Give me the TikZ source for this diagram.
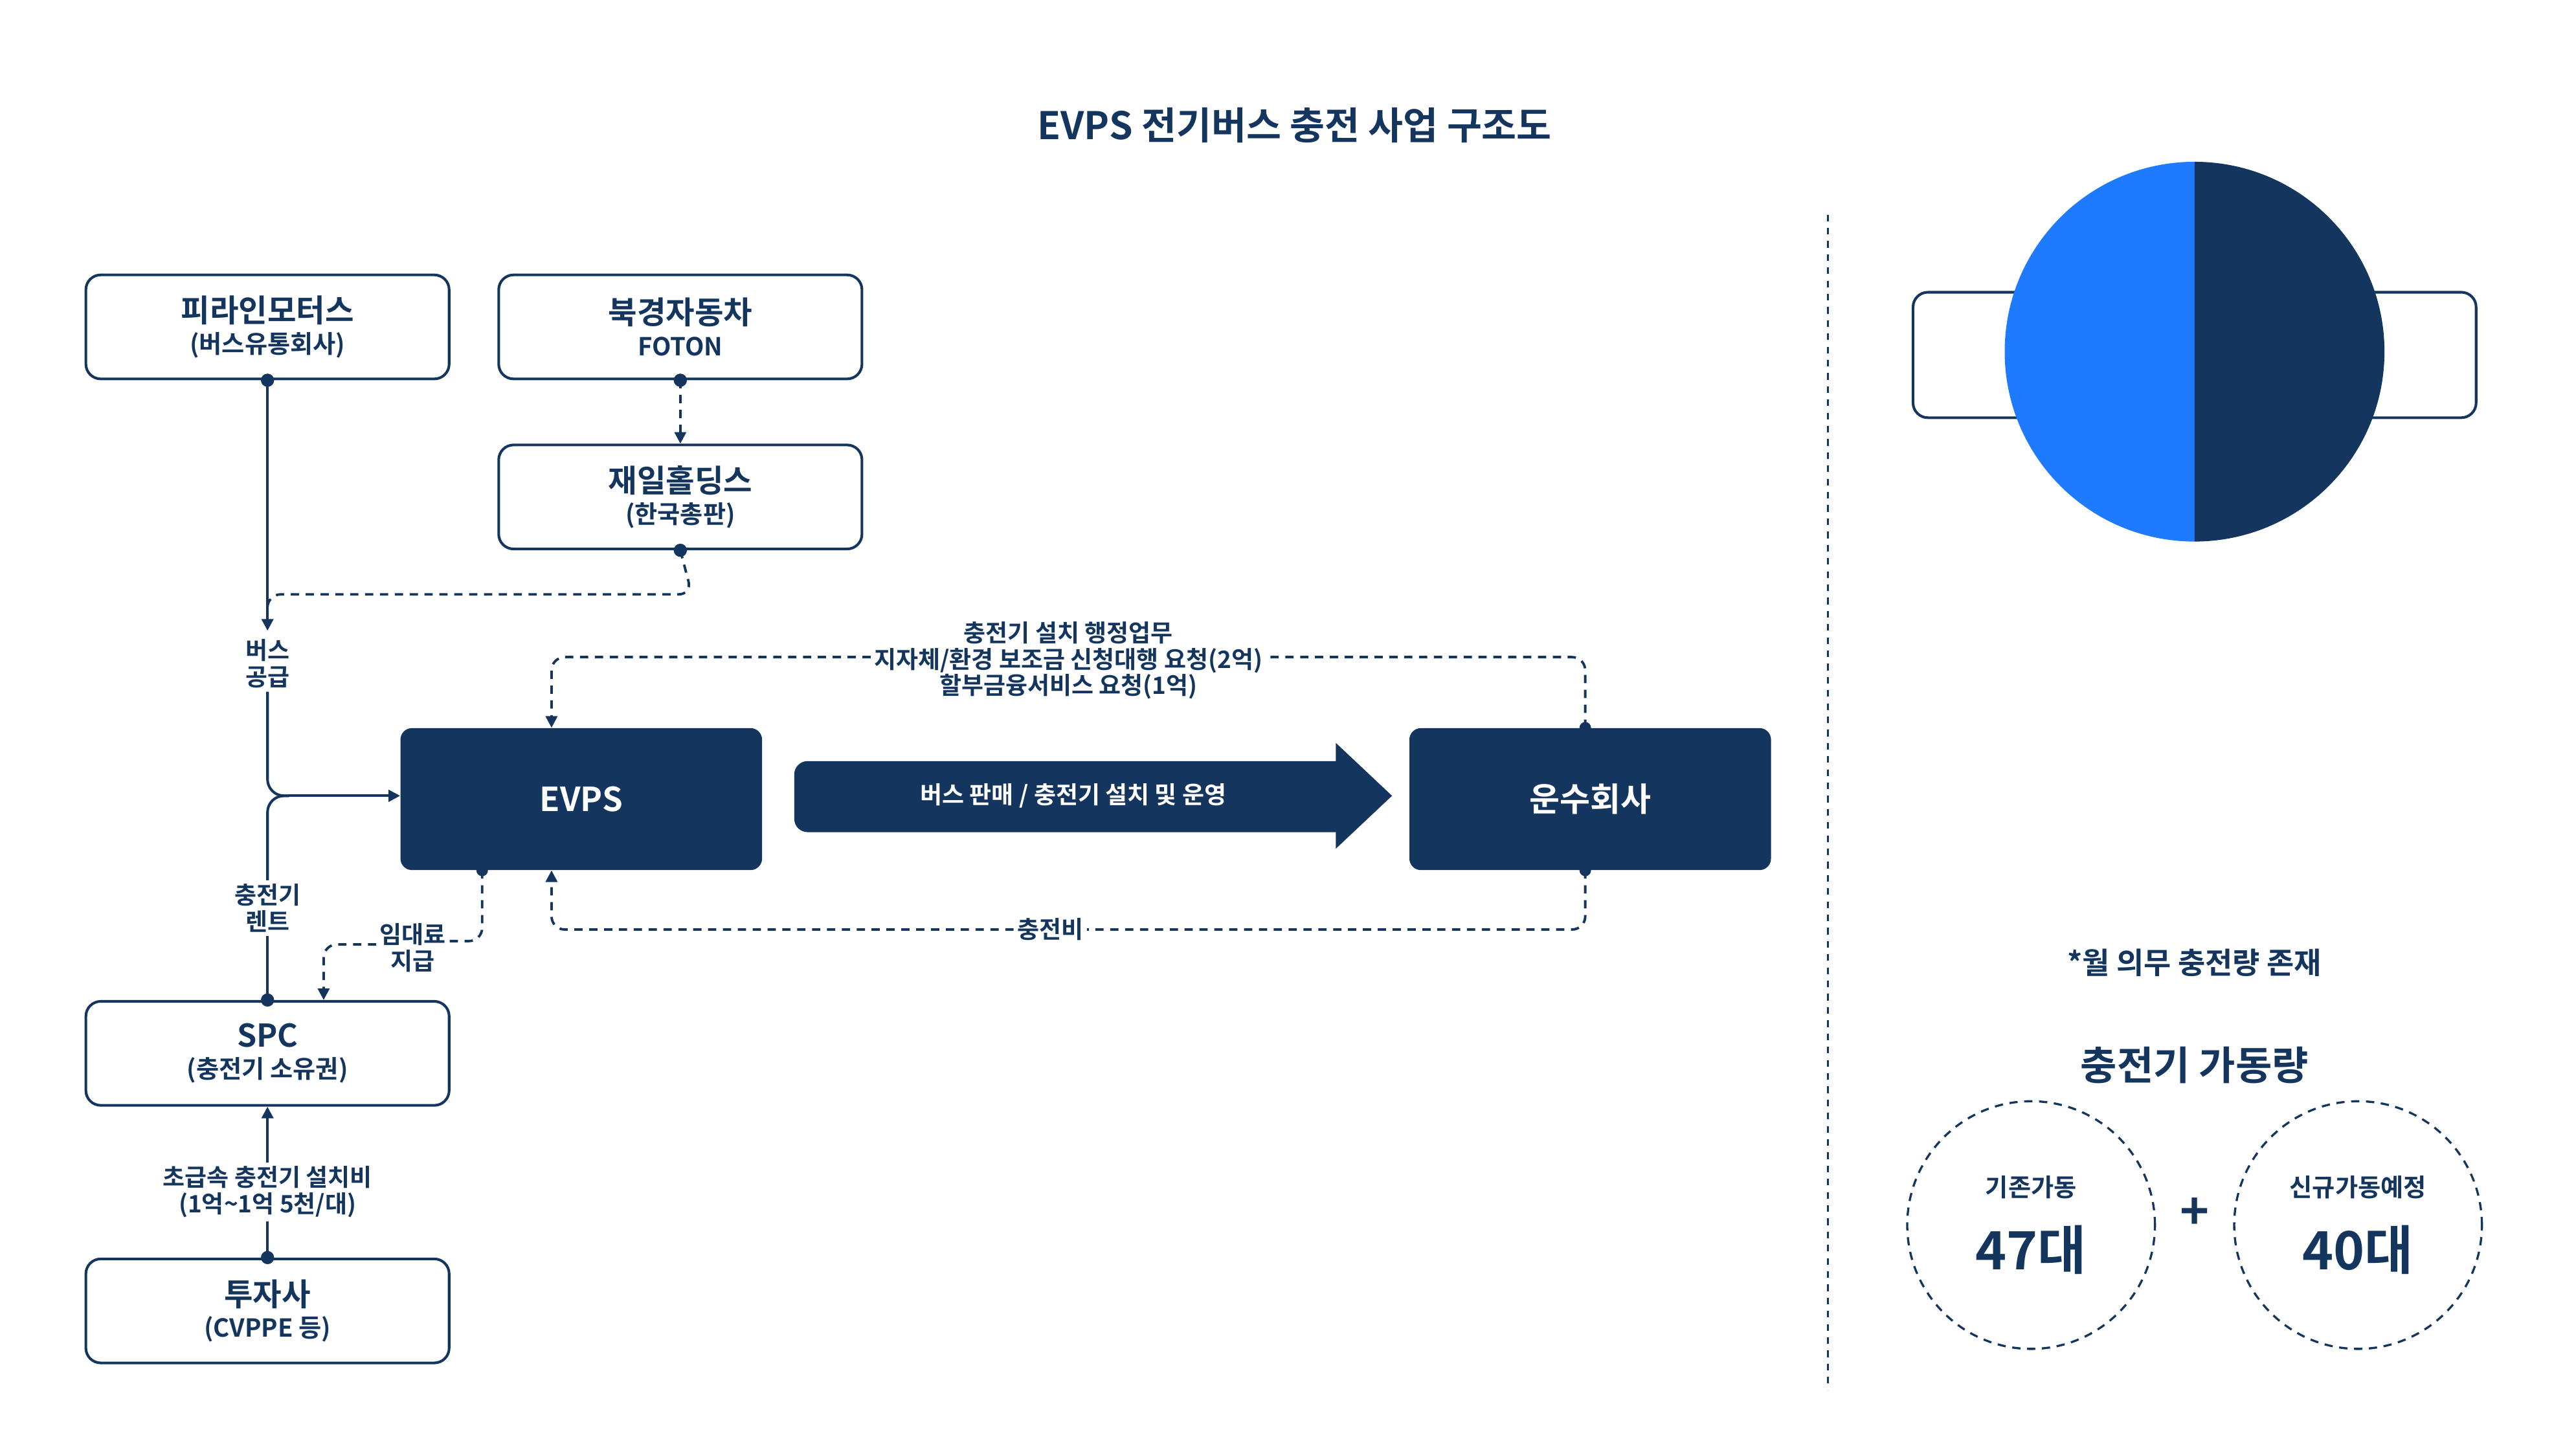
\documentclass[tikz,border=0pt]{standalone}
\usepackage{fontspec}
\setmainfont{Noto Sans CJK KR}[BoldFont={Noto Sans CJK KR Bold}]
\usetikzlibrary{arrows.meta}
\definecolor{navy}{HTML}{14365E}
\definecolor{bl}{HTML}{1E7BFF}
\newcommand\sbt{\bfseries\fontsize{15}{18}\selectfont}
\begin{document}
\begin{tikzpicture}[x=1pt,y=-1pt,
  wbox/.style={draw=navy,line width=1.6pt,rounded corners=9pt,minimum width=220pt,minimum height=63pt,align=center,text=navy,font=\bfseries\fontsize{19}{22}\selectfont},
  nbox/.style={fill=navy,rounded corners=7pt,minimum width=219pt,minimum height=86pt,text=white,font=\bfseries\fontsize{20}{24}\selectfont},
  ln/.style={draw=navy,line width=1.6pt},
  dsh/.style={draw=navy,line width=1.5pt,dash pattern=on 5pt off 4pt},
  arr/.style={-{Triangle[length=7pt,width=7pt]}},
  lab/.style={text=navy,font=\bfseries\fontsize{14.5}{20}\selectfont,align=center,fill=white,inner sep=2pt},
  dot/.style={circle,fill=navy,inner sep=0pt,minimum size=8pt},
  hd/.style={text=navy,font=\bfseries\fontsize{24}{28}\selectfont}]
\useasboundingbox (0,0) rectangle (1560,877);
\node[hd,font=\bfseries\fontsize{23}{28}\selectfont] (title) at (784,76) {EVPS 전기버스 충전 사업 구조도};
\node[wbox] (pira) at (162,198) {피라인모터스\\[-3pt]{\sbt (버스유통회사)}};
\node[wbox] (bk) at (412,198) {북경자동차\\[-3pt]{\sbt FOTON}};
\node[wbox] (ji) at (412,301) {재일홀딩스\\[-3pt]{\sbt (한국총판)}};
\node[nbox] (evps) at (352,484) {EVPS};
\node[nbox] (uns) at (963,484) {운수회사};
\node[wbox] (spc) at (162,638) {SPC\\[-3pt]{\sbt (충전기 소유권)}};
\node[wbox] (inv) at (162,794) {투자사\\[-3pt]{\sbt (CVPPE 등)}};
% big arrow
\fill[navy,rounded corners=8pt] (810,461) -- (481,461) -- (481,504) -- (810,504);
\fill[navy] (809,461) -- (809,450) -- (843,482) -- (809,514) -- (809,504) -- cycle;
\node[text=white,font=\bfseries\fontsize{14.5}{18}\selectfont] (al) at (650,482) {버스 판매 / 충전기 설치 및 운영};
% dots
\node[dot] (d1) at (pira.south) {};
\node[dot] (d2) at (bk.south) {};
\node[dot] (d3) at (ji.south) {};
\node[dot] (d4) at (spc.north) {};
\node[dot] (d5) at (inv.north) {};
\node[dot,minimum size=7pt] (d6) at ([xshift=-60pt]evps.south) {};
\node[dot,minimum size=7pt] (d7) at ([xshift=-3pt]uns.north) {};
\node[dot,minimum size=7pt] (d8) at ([xshift=-3pt]uns.south) {};
% left flows
\node[lab] (bus) at (162,402) {버스\\[-4pt]공급};
\node[lab] (rent) at (162,550) {충전기\\[-4pt]렌트};
\coordinate (b1) at (162,382);
\draw[ln,arr] (pira.south) -- (b1);
\draw[dsh,rounded corners=8pt] (ji.south) -- (419,360) -- (162,360) -- (162,372);
\draw[ln,rounded corners=10pt] (bus.south) -- (162,482) -- (175,482);
\draw[ln,arr] (175,482) -- (evps.west|-175,482);
\draw[ln,rounded corners=10pt] (rent.north) -- (162,482) -- (175,482);
\draw[ln] (spc.north) -- (rent.south);
\draw[dsh,arr] (bk.south) -- (ji.north);
\node[lab] (imd) at (250,574) {임대료\\[-4pt]지급};
\draw[dsh,rounded corners=8pt] (d6.center) -- (292,570) -- (imd.east|-292,570);
\draw[dsh,rounded corners=8pt,arr] (imd.west|-196,572) -- (196,572) -- (196,0|-spc.north);
% top and bottom dashed
\node[lab] (top) at (647,400) {충전기 설치 행정업무\\[-4pt]지자체/환경 보조금 신청대행 요청(2억)\\[-4pt]할부금융서비스 요청(1억)};
\draw[dsh,rounded corners=8pt] (d7.center) -- (960,398) -- (top.east|-960,398);
\draw[dsh,rounded corners=8pt,arr] (top.west|-334,398) -- (334,398) -- (334,0|-evps.north);
\node[lab] (cb) at (636,563) {충전비};
\draw[dsh,rounded corners=8pt] (d8.center) -- (960,563) -- (cb.east);
\draw[dsh,rounded corners=8pt,arr] (cb.west) -- (334,563) -- (334,0|-evps.south);
\node[lab] (inst) at (162,722) {초급속 충전기 설치비\\[-4pt](1억\textasciitilde1억 5천/대)};
\draw[ln,arr] (inst.north) -- (spc.south);
\draw[ln] (inv.north) -- (inst.south);
% divider
\draw[dsh,line width=1.2pt,dash pattern=on 4pt off 4pt] (1107,130) -- (1107,842);
% right side
\node[hd] (h1) at (1329,148) {충전비};
\node[wbox,minimum width=341pt,minimum height=76pt,font=\bfseries\fontsize{18}{24}\selectfont] (fee) at (1329,215) {전기원가 95원\\충전 사용료 300원};
\node[hd] (h2) at (1329,303) {수익분배};
\fill[bl] (1329,328) arc[start angle=90,end angle=270,radius=115] -- cycle;
\fill[navy] (1329,328) arc[start angle=90,end angle=-90,radius=115] -- cycle;
\fill[white] (1329,443) circle[radius=34];
\node[text=white,font=\bfseries\fontsize{19}{24}\selectfont,align=center] (pl) at (1256,446) {투자사\\(SPC)};
\node[text=white,font=\bfseries\fontsize{19}{24}\selectfont] (pr) at (1405,441) {EVPS};
\node[text=navy,font=\bfseries\fontsize{18}{22}\selectfont] (note) at (1329,583) {*월 의무 충전량 존재};
\node[hd] (h3) at (1329,645) {충전기 가동량};
\node[circle,draw=navy,line width=1.3pt,dash pattern=on 5pt off 4pt,minimum size=150pt] (c1) at (1230,742) {};
\node[circle,draw=navy,line width=1.3pt,dash pattern=on 5pt off 4pt,minimum size=150pt] (c2) at (1428,742) {};
\node[text=navy,font=\bfseries\fontsize{15}{18}\selectfont] (t1) at (1230,719) {기존가동};
\node[text=navy,font=\bfseries\fontsize{32}{36}\selectfont] (n1) at (1230,757) {47대};
\node[text=navy,font=\bfseries\fontsize{15}{18}\selectfont] (t2) at (1428,719) {신규가동예정};
\node[text=navy,font=\bfseries\fontsize{32}{36}\selectfont] (n2) at (1428,757) {40대};
\node[text=navy,font=\bfseries\fontsize{30}{32}\selectfont] (plus) at (1329,735) {+};
\end{tikzpicture}
\end{document}
